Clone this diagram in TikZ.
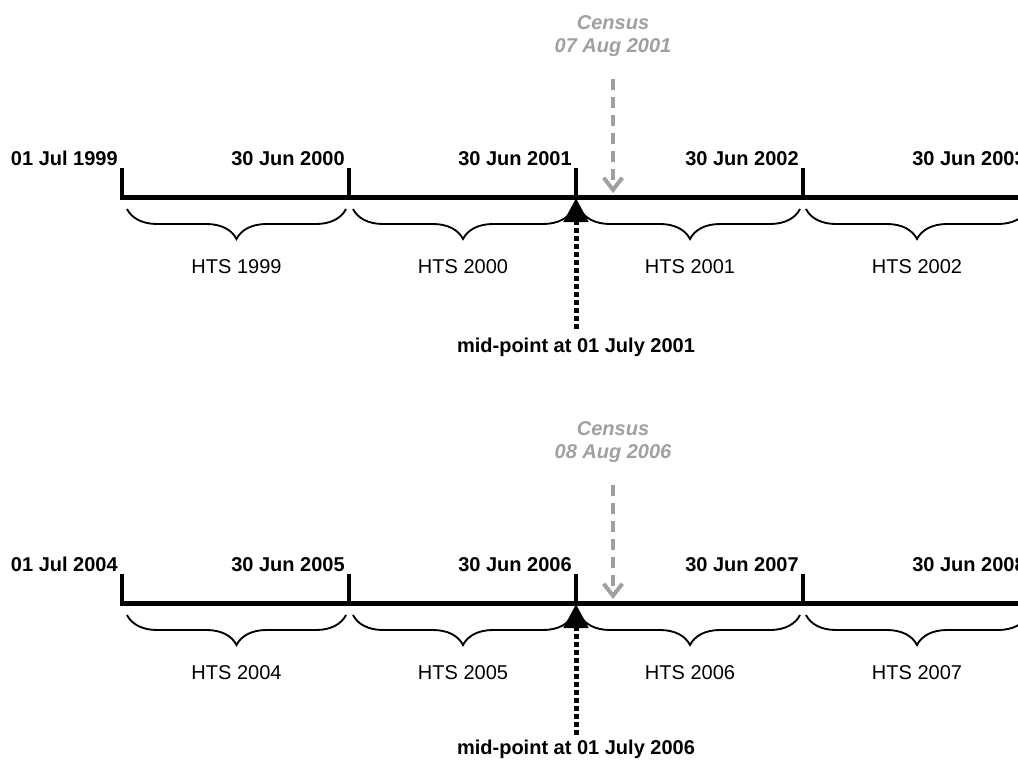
\documentclass[tikz,border=0pt]{standalone}
\usepackage{fontspec}
\setmainfont{Liberation Sans}
\usetikzlibrary{arrows.meta,decorations.pathreplacing}
\definecolor{censusgray}{RGB}{160,160,160}
\tikzset{
  ticklab/.style={font=\fontsize{15}{18}\selectfont\bfseries, anchor=base east, inner sep=0pt},
  htslab/.style={font=\fontsize{15}{18}\selectfont, inner sep=0pt},
  censuslab/.style={font=\fontsize{15}{18}\selectfont\bfseries\itshape, text=censusgray, inner sep=0pt},
  midlab/.style={font=\fontsize{15}{18}\selectfont\bfseries, inner sep=0pt},
  axisline/.style={line width=3.75pt},
  tickline/.style={line width=3pt},
  hbrace/.style={decorate, decoration={brace, mirror, amplitude=22.5pt}, line width=1.4pt},
  censusarrow/.style={censusgray, line width=3pt, dash pattern=on 8.5pt off 5pt, -{Straight Barb[length=9pt,width=14pt]}},
  midarrow/.style={line width=3.75pt, dash pattern=on 3.75pt off 2.25pt, -{Triangle[length=18pt,width=18pt]}},
}
\newcommand{\tlblock}[5]{% #1 prefix, #2 first year, #3 census date, #4 y offset, #5 mid label y
  \begin{scope}[shift={(0,#4)}]
    \coordinate (#1start) at (120,197);
    \coordinate (#1end) at (1040,197);
    \draw[axisline] (#1start) -- (#1end);
    \foreach \k/\x in {0/122,1/349,2/576,3/803,4/1030}{
      \coordinate (#1t\k) at (\x,197);
      \coordinate (#1u\k) at (\x,168);
      \draw[tickline] (#1t\k) -- (#1u\k);
    }
    \node[ticklab] (#1lab0) at (118,165) {01 Jul #2};
    \foreach \k/\x in {1/345,2/572,3/799,4/1026}{
      \node[ticklab] (#1lab\k) at (\x,165) {30 Jun \the\numexpr#2+\k\relax};
    }
    \foreach \k/\a/\b in {0/127/346,1/353/573,2/580/800,3/806/1028}{
      \coordinate (#1bl\k) at (\a,209);
      \coordinate (#1br\k) at (\b,209);
      \draw[hbrace] (#1bl\k) -- (#1br\k);
      \node[htslab] (#1hts\k) at ({(\a+\b)/2},267) {HTS \the\numexpr#2+\k\relax};
    }
    \node[censuslab] (#1cen) at (613,23) {Census};
    \node[censuslab] (#1cendate) at (613,48) {#3};
    \coordinate (#1ca) at (613,79);
    \coordinate (#1cb) at (613,193);
    \draw[censusarrow] (#1ca) -- (#1cb);
    \coordinate (#1ma) at (576,329);
    \coordinate (#1mb) at (576,198);
    \draw[midarrow] (#1ma) -- (#1mb);
    \node[midlab] (#1mid) at (576,#5) {mid-point at 01 July \the\numexpr#2+2\relax};
  \end{scope}
}
\begin{document}
\begin{tikzpicture}[x=0.75pt,y=-0.75pt]
  \useasboundingbox (0,0) rectangle (1018,760);
  \clip (0,0) rectangle (1018,760);
  \tlblock{a}{1999}{07 Aug 2001}{0}{347}
  \tlblock{b}{2004}{08 Aug 2006}{406}{343}
\end{tikzpicture}
\end{document}
